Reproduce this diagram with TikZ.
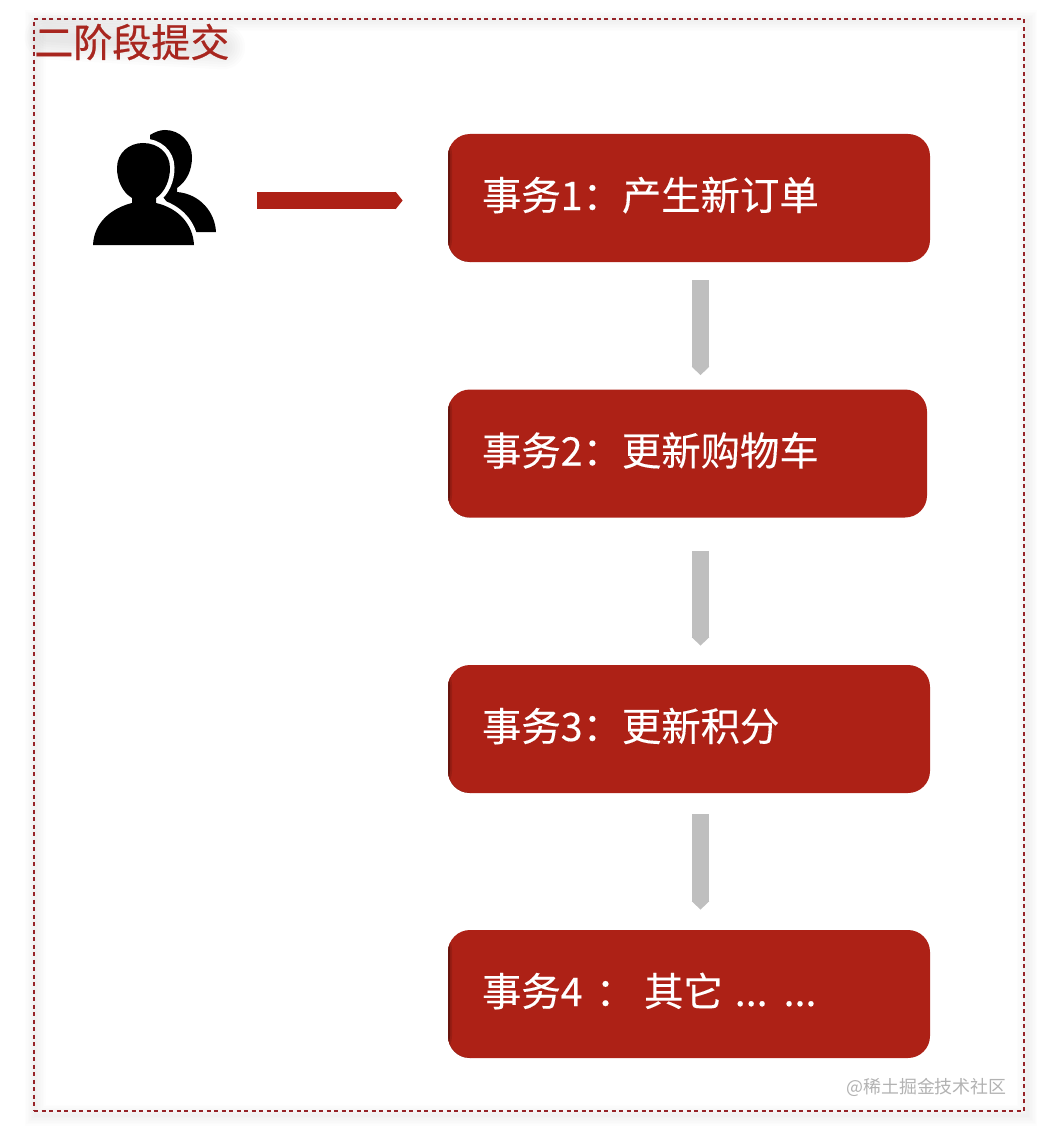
\documentclass[tikz,border=0pt]{standalone}
\usepackage{fontspec}
\setmainfont{Noto Sans CJK SC}
\newfontfamily\titlefont[FakeBold=.6]{Noto Sans CJK SC}
\newfontfamily\taskfont[FakeBold=.2]{Noto Sans CJK SC}
\usepackage{tikz}
\usetikzlibrary{arrows.meta}
\pgfdeclarelayer{bg}
\pgfsetlayers{bg,main}
\definecolor{taskred}{HTML}{AD2116}
\definecolor{framered}{HTML}{962328}
\definecolor{titlered}{HTML}{A8261F}
\definecolor{arrowgrey}{HTML}{BFBFBF}
\tikzset{
    every node/.style={inner sep=0mm},
    task/.style={rounded corners=.44cm, fill=taskred, text=white, minimum height=2.56cm, minimum width=9.64cm,
        text width=8.28cm, text height=.76cm, text depth=.28cm, align=left, font=\taskfont\fontsize{22.4}{27}\selectfont,
        path picture={
            \fill [black!12!taskred] (path picture bounding box.south west) rectangle ++(.08cm, 2.6cm);
            \fill [black!40!taskred] (path picture bounding box.south west) rectangle ++(.04cm, 2.6cm);}},
    greyarrow/.style={draw=arrowgrey, line width=.34cm, -{Triangle[length=.17cm, width=.34cm]}},
    redarrow/.style={draw=taskred, line width=.34cm, -{Triangle[length=.14cm, width=.34cm]}}
}
\begin{document}
\begin{tikzpicture}
        \useasboundingbox (0cm, 0cm) rectangle (20.72cm, -22.52cm);
        \node (frame) [draw=framered, line width=.04cm, dash pattern=on .08cm off .07cm, minimum width=19.80cm, minimum height=21.84cm] at (10.58cm, -11.30cm) {};
        \node (title) [anchor=west, text=titlered, font=\titlefont\fontsize{22.2}{26}\selectfont] at (.68cm, -.84cm) {二阶段提交};
        \node (user) [minimum width=2.46cm, minimum height=2.30cm] at (3.09cm, -3.75cm) {};
        \node (t1) [task] at (13.78cm, -3.96cm) {事务1：产生新订单};
        \node (t2) [task, minimum width=9.58cm, text width=8.22cm] at (13.75cm, -9.07cm) {事务2：更新购物车};
        \node (t3) [task] at (13.78cm, -14.58cm) {事务3：更新积分};
        \node (t4) [task] at (13.78cm, -19.88cm) {事务4 ：\hspace{.18cm}其它\hspace{.24cm}...\hspace{.32cm}...};
        \node (mark) [anchor=east, text=black!30, font=\fontsize{10.2}{12}\selectfont] at (20.14cm, -21.74cm) {@稀土掘金技术社区};
        % back person, then front person with a white rim
        \fill (3.00cm, -2.70cm) .. controls (3.10cm, -2.64cm) and (3.20cm, -2.60cm) .. (3.30cm, -2.60cm)
                .. controls (3.60cm, -2.60cm) and (3.84cm, -2.84cm) .. (3.84cm, -3.14cm)
                .. controls (3.84cm, -3.40cm) and (3.74cm, -3.62cm) .. (3.54cm, -3.76cm)
                -- (3.54cm, -3.84cm)
                .. controls (4.00cm, -3.88cm) and (4.30cm, -4.24cm) .. (4.32cm, -4.64cm)
                -- (3.80cm, -4.64cm) -- (3.00cm, -3.60cm) -- cycle;
        \path [preaction={draw=white, line width=.18cm}, fill=black] (1.86cm, -4.90cm)
                .. controls (1.88cm, -4.44cm) and (2.24cm, -4.16cm) .. (2.64cm, -4.06cm)
                -- (2.64cm, -3.96cm)
                .. controls (2.44cm, -3.84cm) and (2.34cm, -3.60cm) .. (2.34cm, -3.36cm)
                .. controls (2.34cm, -3.06cm) and (2.58cm, -2.86cm) .. (2.86cm, -2.86cm)
                .. controls (3.16cm, -2.86cm) and (3.40cm, -3.06cm) .. (3.40cm, -3.36cm)
                .. controls (3.40cm, -3.60cm) and (3.30cm, -3.84cm) .. (3.12cm, -3.96cm)
                -- (3.12cm, -4.06cm)
                .. controls (3.56cm, -4.16cm) and (3.86cm, -4.48cm) .. (3.88cm, -4.90cm) -- cycle;
        \begin{pgfonlayer}{bg}
                \foreach \w in {.06, .12, ..., .42}
                        \draw [black, opacity=.007, line width=\w cm] ([shift={(.04cm, -.06cm)}]frame.south west) rectangle ([shift={(.04cm, -.06cm)}]frame.north east);
                % soft shade round the title
                \foreach \w in {.2, .3, ..., 1.0}
                        \draw [black, opacity=.012, line cap=round, line width=\w cm] ([shift={(.26cm, .10cm)}]title.west) -- ([shift={(-.14cm, -.10cm)}]title.east |- title.west);
                \draw [redarrow, shorten <=.82cm, shorten >=.90cm] ([yshift=-.26cm]user.east) -- ([yshift=-.26cm]user.east -| t1.west);
                \draw [greyarrow, shorten <=.36cm, shorten >=.28cm] ([xshift=.23cm]t1.south) -- ([xshift=.26cm]t2.north);
                \draw [greyarrow, shorten <=.66cm, shorten >=.38cm] ([xshift=.26cm]t2.south) -- ([xshift=.23cm]t3.north);
                \draw [greyarrow, shorten <=.42cm, shorten >=.40cm] ([xshift=.23cm]t3.south) -- ([xshift=.23cm]t4.north);
        \end{pgfonlayer}
\end{tikzpicture}
\end{document}
